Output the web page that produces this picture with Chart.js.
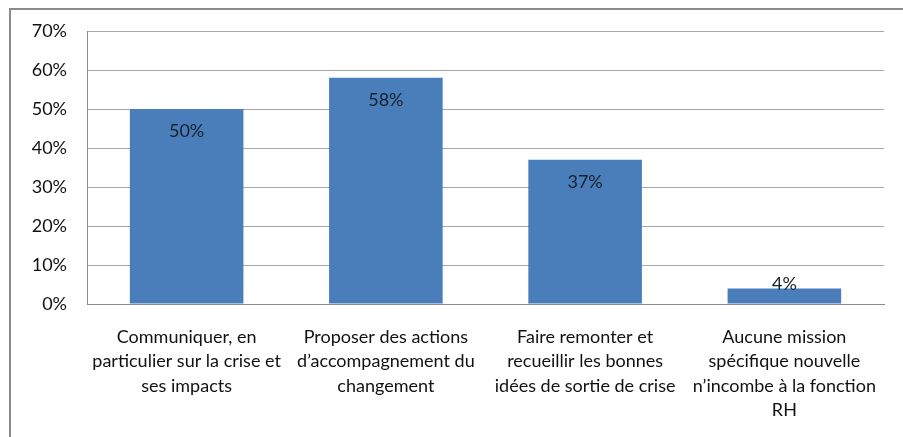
<!DOCTYPE html>
<html>
<head>
<meta charset="utf-8">
<script src="https://cdn.jsdelivr.net/npm/chart.js@4/dist/chart.umd.min.js"></script>
<style>
  html, body { margin: 0; padding: 0; background: #fff; }
  #wrap { width: 903px; height: 437px; position: relative; }
</style>
</head>
<body>
<div id="wrap"><canvas id="chart"></canvas></div>
<script>
const categories = [
    ["Communiquer, en", "particulier sur la crise et", "ses impacts"],
    ["Proposer des actions", "d\u2019accompagnement du", "changement"],
    ["Faire remonter et", "recueillir les bonnes", "id\u00e9es de sortie de crise"],
    ["Aucune mission", "sp\u00e9cifique nouvelle", "n\u2019incombe \u00e0 la fonction", "RH"],
];
const values = [50, 58, 37, 4];
const yTicks = [0, 10, 20, 30, 40, 50, 60, 70];

const FONT = "Lato, 'Liberation Sans', sans-serif";

// outer frame of the original image
const framePlugin = {
    id: "frame",
    beforeDraw(chart) {
        const ctx = chart.ctx;
        ctx.save();
        ctx.strokeStyle = "#8a8a8a";
        ctx.lineWidth = 2;
        ctx.beginPath();
        ctx.moveTo(10, 437);
        ctx.lineTo(10, 9);
        ctx.lineTo(903, 9);
        ctx.stroke();
        ctx.restore();
    },
};

// value labels inside the top of each bar
const valueLabels = {
    id: "valueLabels",
    afterDatasetsDraw(chart) {
        const ctx = chart.ctx;
        const meta = chart.getDatasetMeta(0);
        ctx.save();
        ctx.font = "18px " + FONT;
        ctx.fillStyle = "#17202b";
        ctx.textAlign = "center";
        ctx.textBaseline = "middle";
        meta.data.forEach((bar, i) => {
            const h = bar.base - bar.y;
            const y = h > 30 ? bar.y + 22 : bar.y - 4;
            ctx.fillText(values[i] + "%", bar.x, y);
        });
        ctx.restore();
    },
};

new Chart(document.getElementById("chart"), {
    type: "bar",
    data: {
        labels: categories,
        datasets: [
            {
                data: values,
                backgroundColor: "#4a7ebb",
                borderWidth: 0,
                barPercentage: 0.57,
                categoryPercentage: 1,
            },
        ],
    },
    options: {
        responsive: true,
        maintainAspectRatio: false,
        animation: false,
        layout: { padding: { top: 31, right: 19, left: 0, bottom: 0 } },
        plugins: {
            legend: { display: false },
            tooltip: { enabled: false },
        },
        scales: {
            x: {
                grid: { display: false, drawTicks: false },
                border: { color: "#8a8a8a", width: 1 },
                ticks: {
                    color: "#111111",
                    font: { family: FONT, size: 18, lineHeight: 1.35 },
                    padding: 21,
                    maxRotation: 0,
                    autoSkip: false,
                },
                afterFit(scale) {
                    scale.height = 133;
                },
            },
            y: {
                min: 0,
                max: 70,
                afterBuildTicks(scale) {
                    scale.ticks = yTicks.map((v) => ({ value: v }));
                },
                grid: { color: "#a6a6a6", drawTicks: false },
                border: { color: "#8a8a8a", width: 1 },
                ticks: {
                    color: "#111111",
                    font: { family: FONT, size: 18 },
                    padding: 20,
                    callback: (v) => v + "%",
                },
                afterFit(scale) {
                    scale.width = 87;
                },
            },
        },
    },
    plugins: [framePlugin, valueLabels],
});
</script>
</body>
</html>
